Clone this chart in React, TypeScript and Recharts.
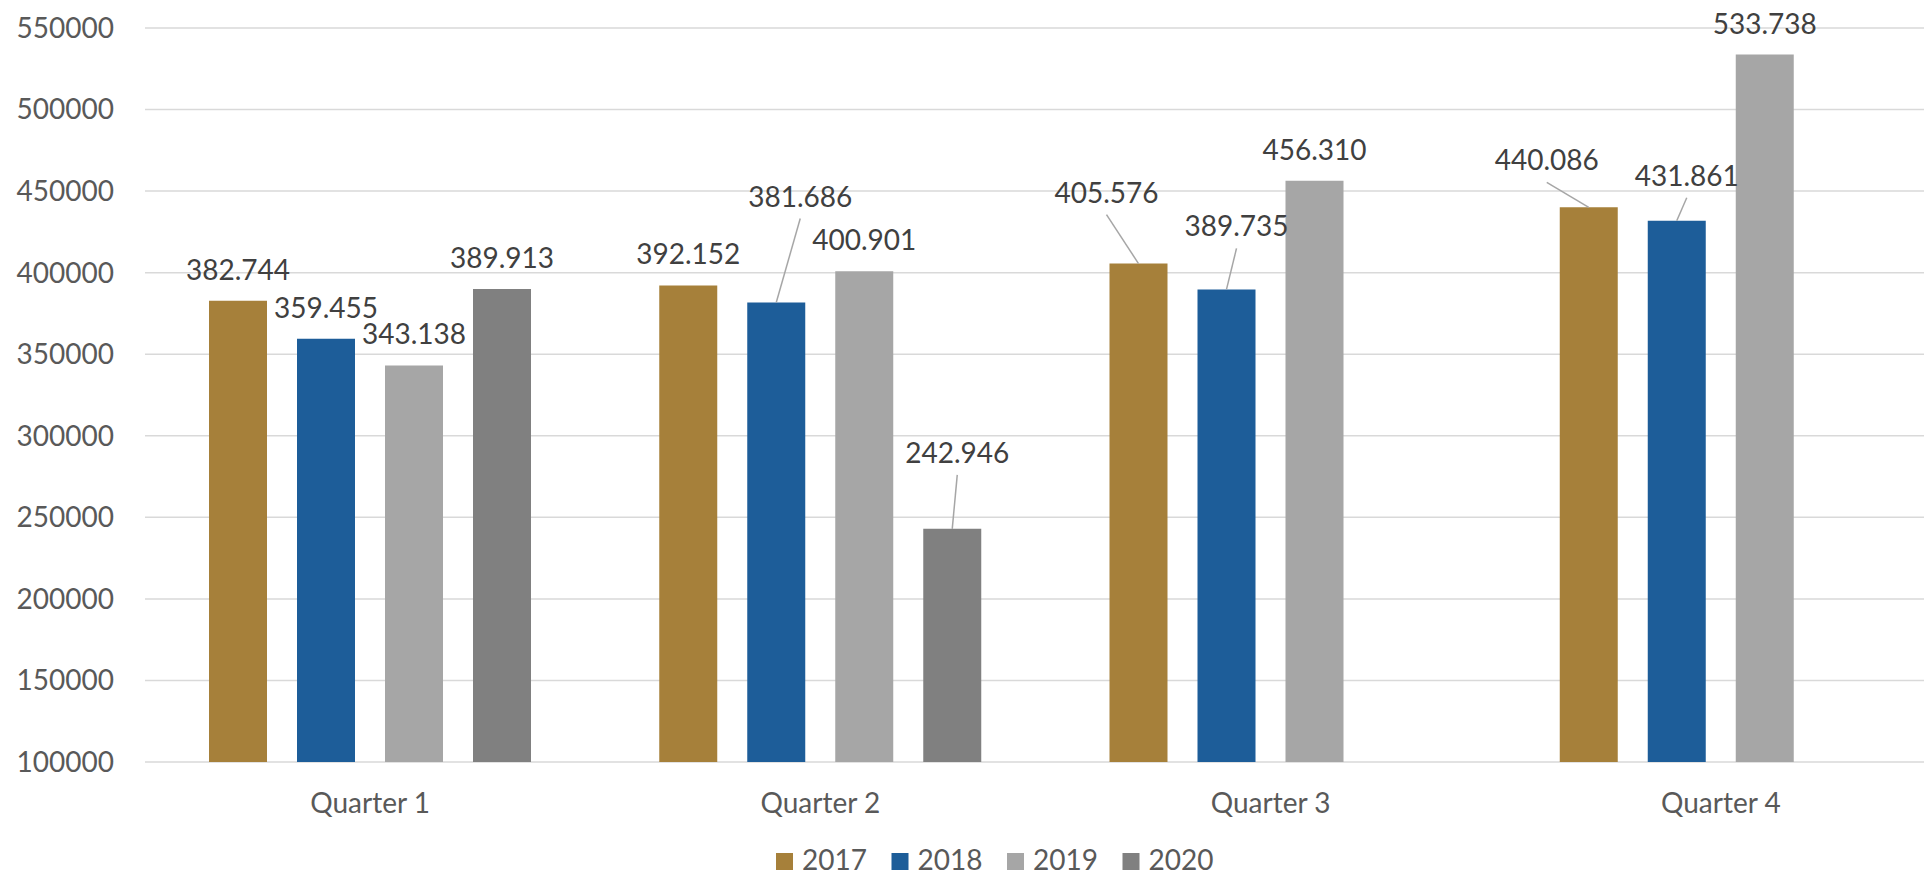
import React from "react";
import { Bar, BarChart, CartesianGrid, LabelList, XAxis, YAxis } from "recharts";

const quarters = ["Quarter 1", "Quarter 2", "Quarter 3", "Quarter 4"];
const years = ["2017", "2018", "2019", "2020"];
const values2017 = [382744, 392152, 405576, 440086];
const values2018 = [359455, 381686, 389735, 431861];
const values2019 = [343138, 400901, 456310, 533738];
const values2020 = [389913, 242946, null, null];
const yTicks = [100000, 150000, 200000, 250000, 300000, 350000, 400000, 450000, 500000, 550000];

const colors = ["#A6803A", "#1D5D99", "#A6A6A6", "#808080"];

// labels that Excel pushed away from the bar top, with a leader line
const labelNudges: Record<string, [number, number]> = {
  "2018-1": [24, -75],
  "2020-1": [5, -45],
  "2017-2": [-32, -40],
  "2018-2": [10, -32],
  "2017-3": [-42, -16],
  "2018-3": [10, -14],
};

const seriesByYear: Record<string, (number | null)[]> = {
  "2017": values2017,
  "2018": values2018,
  "2019": values2019,
  "2020": values2020,
};

const data = quarters.map((q, i) => ({
  quarter: q,
  "2017": values2017[i],
  "2018": values2018[i],
  "2019": values2019[i],
  "2020": values2020[i],
}));

const fmt = (n: number) => String(n).replace(/\B(?=(\d{3})+(?!\d))/g, ".");

const makeLabel = (year: string) => (props: any) => {
  const { x, y, width, value } = props;
  if (value == null || x == null) return null;
  const index = props.index ?? seriesByYear[year].indexOf(Number(value));
  const cx = Number(x) + Number(width) / 2;
  const top = Number(y);
  const nudge = labelNudges[`${year}-${index}`];
  const tx = cx + (nudge ? nudge[0] : 0);
  const ty = top - 21 + (nudge ? nudge[1] : 0);
  return (
    <g>
      {nudge && (
        <line x1={cx} y1={top} x2={tx} y2={ty + 12} stroke="#a6a6a6" strokeWidth={1.5} />
      )}
      <text x={tx} y={ty} textAnchor="middle" fontSize={28} fill="#404040">
        {fmt(Number(value))}
      </text>
    </g>
  );
};

export default function App() {
  return (
    <div
      style={{
        position: "absolute",
        left: 0,
        top: 0,
        width: 1924,
        height: 878,
        overflow: "hidden",
        background: "#fff",
        fontFamily: "Lato",
      }}
    >
      <BarChart
        width={1960}
        height={878}
        data={data}
        margin={{ top: 28, right: 14, bottom: 86, left: 0 }}
        barSize={58}
        barGap={30}
      >
        <CartesianGrid vertical={false} stroke="#d9d9d9" strokeWidth={1.5} />
        <XAxis
          dataKey="quarter"
          height={30}
          axisLine={false}
          tickLine={false}
          tickSize={0}
          tickMargin={31}
          tick={{ fontSize: 28, fill: "#595959" }}
        />
        <YAxis
          width={145}
          domain={[100000, 550000]}
          ticks={yTicks}
          interval={0}
          axisLine={false}
          tickLine={false}
          tickSize={0}
          tickMargin={31}
          tick={{ fontSize: 28, fill: "#595959" }}
        />
        {years.map((yr, i) => (
          <Bar key={yr} dataKey={yr} fill={colors[i]} isAnimationActive={false}>
            <LabelList dataKey={yr} content={makeLabel(yr)} />
          </Bar>
        ))}
      </BarChart>
      <svg
        width={1924}
        height={878}
        style={{ position: "absolute", left: 0, top: 0, pointerEvents: "none" }}
      >
        {years.map((yr, i) => (
          <g key={yr} transform={`translate(${776 + i * 115.5},0)`}>
            <rect x={0} y={853} width={17} height={17} fill={colors[i]} />
            <text x={26} y={870} fontSize={28} fill="#595959">
              {yr}
            </text>
          </g>
        ))}
      </svg>
    </div>
  );
}
